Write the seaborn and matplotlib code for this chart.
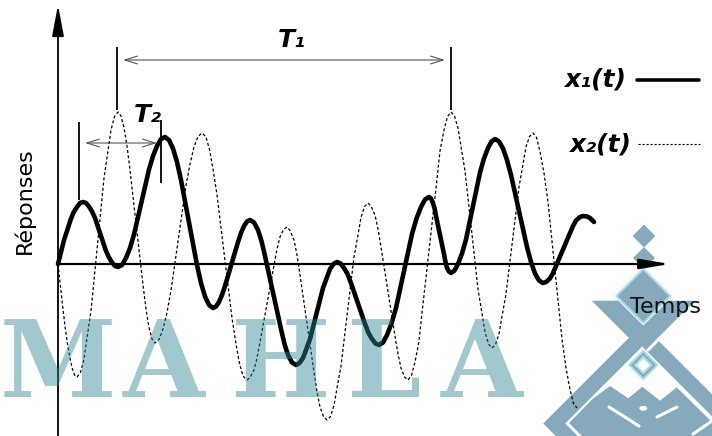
import matplotlib
matplotlib.use("Agg")
import matplotlib.pyplot as plt
from matplotlib.patches import Polygon, Circle
import seaborn as sns

# x1(t): bold response (time, amplitude)
t1 = [0, 3, 6, 9.5, 12.5, 15.5, 19, 22, 25,
      28, 31, 34, 37, 42.5, 48, 51, 54, 57, 60,
      64, 68, 72, 76, 83.5, 91, 95, 99, 103, 107,
      111, 115, 119, 123, 131, 139, 143, 147, 151, 155,
      158, 161, 164, 167, 173.5, 180, 183, 186, 189, 192,
      196, 200, 203.5, 207, 215, 223, 226.5, 230, 234, 238,
      241.5, 245, 248, 252, 258.5, 265, 269, 272, 275.5, 279,
      282.5, 286, 289.5, 293, 300, 307, 310.5, 314, 317.5, 321,
      325, 329, 333.5, 338, 346, 354, 358.5, 363, 367, 371,
      373, 374.5, 376.5, 378, 382, 386, 387.5, 389, 391, 393,
      396.5, 400, 404, 408, 415, 422, 426, 430, 433.5, 437,
      441, 445, 449, 453, 461, 469, 473, 477, 481, 485,
      488, 492, 495, 498, 505, 512, 515, 518, 522, 525,
      529, 532, 536]
x1 = [0, 12, 24, 34.5, 44, 51.5, 57, 61, 62,
      61, 57.5, 52.5, 46, 29.5, 13, 6.5, 1.5, -2, -3,
      -1, 6, 16, 29.5, 62, 94.5, 108, 118, 125, 127,
      124, 115.5, 102, 84, 41.5, -1, -19, -32.5, -41, -44,
      -42.5, -38, -31, -22, 0, 22, 31, 38, 42.5, 44,
      41.5, 34, 23, 8, -28.5, -65, -80, -91, -98.5, -101,
      -99, -94, -86, -75, -49.5, -24, -13, -5, 0, 2,
      0.5, -4, -10, -19, -39.5, -60, -69, -75, -79.5, -81,
      -78.5, -71, -59.5, -44, -7, 30, 45.5, 57, 64.5, 67,
      65.5, 62, 56, 48, 29, 10, 2, -4, -7.5, -9,
      -6.5, 0, 10.5, 24.5, 58, 91.5, 105.5, 116, 122.5, 125,
      122.5, 115.5, 104, 89, 53, 17, 2, -9.5, -16.5, -19,
      -18, -14.5, -9, -2, 14.5, 31, 38, 43.5, 47, 48,
      47.5, 46, 42]

# x2(t): dotted response
t2 = [0, 2.4, 4.75, 7.1, 9.5, 11.9, 14.25, 16.6, 19,
      22.5, 26, 29, 33, 39.5, 46, 50, 53, 56.5, 60,
      63, 66, 69, 72, 78.5, 85, 88, 91, 94, 97,
      101, 105, 109, 113, 120.5, 128, 132, 136, 140, 144,
      148, 151.5, 155, 159, 166.5, 174, 178, 181.5, 185, 189,
      192, 196, 199, 202, 209, 216, 219, 222, 225.5, 229,
      232, 236, 239, 242, 249, 256, 259, 262, 265.5, 269,
      272.5, 276, 279, 283, 289.5, 296, 300, 303, 306.5, 310,
      313, 317, 320, 323, 330, 337, 340, 343, 346.5, 350,
      353.5, 357, 361, 364, 371.5, 379, 382, 386, 389.5, 393,
      396.5, 400, 403, 407, 413.5, 420, 424, 427, 430.5, 434,
      437.5, 441, 444, 448, 454.5, 461, 465, 468, 471.5, 475,
      478.5, 482, 486, 490, 497, 504, 508, 512, 515.5, 519]
x2 = [0, -22, -43, -63, -80, -94, -104.5, -111, -113,
      -108.5, -95, -74, -47, 19.5, 86, 113, 134, 147.5, 152,
      148, 136.5, 118, 94, 36.5, -21, -45, -63.5, -75, -79,
      -75.5, -65, -48.5, -26.5, 26, 78.5, 100, 117, 127.5, 131,
      127, 114.5, 95, 69, 7.5, -54, -80, -99.5, -112, -116,
      -113.5, -106, -94, -78, -39.5, -1, 15, 27, 34.5, 37,
      33.5, 24, 9, -11, -59.5, -108, -128, -143, -152.5, -156,
      -152.5, -141.5, -124, -102, -47.5, 7, 29, 46.5, 57.5, 61,
      58, 49, 35, 17, -27.5, -72, -90, -104, -113, -116,
      -111.5, -98, -77, -49, 18, 85, 113, 134, 147.5, 152,
      148, 136, 117.5, 93, 34, -25, -49.5, -68, -80, -84,
      -80.5, -70, -52.5, -30, 23.5, 77, 99.5, 117, 127.5, 131,
      126.5, 112.5, 91, 62, -6.5, -75, -104, -125.5, -139.5, -144]

sns.set_style("white")
plt.rcParams["font.family"] = ["DejaVu Sans"]
plt.rcParams["text.color"] = "black"

W, H = 712, 436
X0, Y0 = 58, 264  # pixel position of the origin

LOGO = "#86a9bc"
CYAN = "#a9dfe8"


def frac(px, py):
    return px / W, 1 - py / H


def diamond(cx, cy, r, **kw):
    pts = [frac(cx, cy - r), frac(cx + r, cy), frac(cx, cy + r), frac(cx - r, cy)]
    return Polygon(pts, closed=True, transform=ax.transAxes, **kw)


fig = plt.figure(figsize=(W / 100, H / 100), dpi=100)
ax = fig.add_axes([0, 0, 1, 1])
ax.set_xlim(-X0, W - X0)
ax.set_ylim(Y0 - H, Y0)
ax.axis("off")

# background logo (bottom right)
ax.add_patch(diamond(642.2, 423.5, 99, facecolor=LOGO, edgecolor="none", zorder=0.5))
ax.add_patch(diamond(642.2, 423.5, 77, facecolor="white", edgecolor="none", zorder=0.6))
ax.add_patch(Polygon([frac(*p) for p in [(591.7, 300.7), (618.3, 300.7), (643.3, 325.7),
                                          (668.3, 300.7), (695, 300.7), (656.7, 339),
                                          (642.2, 360), (628.8, 337.8)]],
                     transform=ax.transAxes, facecolor=LOGO, edgecolor="none", zorder=0.5))
ax.add_patch(Polygon([frac(*p) for p in [(593.3, 398.3), (610, 386), (628.3, 398.3),
                                          (642.3, 386.7), (660, 400.7), (676.7, 387.3),
                                          (716, 426), (716, 444), (590, 444), (569, 423)]],
                     transform=ax.transAxes, facecolor=LOGO, edgecolor="none", zorder=0.7))
ax.add_patch(Circle(frac(643.3, 408.3), 4 / W, transform=ax.transAxes,
                    facecolor="white", edgecolor="none", zorder=0.8))
for (xa, ya), (xb, yb) in [((609, 407), (639, 426)), ((657, 417), (677, 407)),
                           ((693, 434), (712, 421)), ((648, 350), (660, 338))]:
    ax.plot(*zip(frac(xa, ya), frac(xb, yb)), transform=ax.transAxes,
            color="white", lw=2.2, solid_capstyle="round", zorder=0.9)
ax.add_patch(diamond(643.3, 365, 14, facecolor=LOGO, edgecolor=CYAN, lw=1.5, zorder=0.8))
ax.add_patch(diamond(643.3, 365, 8, facecolor="white", edgecolor=CYAN, lw=1.5, zorder=0.9))
ax.add_patch(diamond(644, 236, 11.5, facecolor=LOGO, edgecolor="none", zorder=0.5))
ax.add_patch(diamond(644, 258, 11, facecolor=LOGO, edgecolor="none", zorder=0.5))
ax.add_patch(diamond(643.3, 296, 27, facecolor=LOGO, edgecolor=CYAN, lw=1.5, zorder=0.8))

# responses
sns.lineplot(x=t2, y=x2, ax=ax, color="black", lw=0.9, linestyle=(0, (2.4, 1.8)),
             estimator=None, sort=False, zorder=3)
sns.lineplot(x=t1, y=x1, ax=ax, color="black", lw=3.3, estimator=None, sort=False,
             solid_joinstyle="round", solid_capstyle="round", zorder=4)

# axes with arrows
ax.annotate("", xy=(0, 259), xytext=(0, Y0 - H - 5),
            arrowprops=dict(arrowstyle="-|>,head_length=1.9,head_width=0.36",
                            color="black", lw=1.3, shrinkA=0, shrinkB=0, mutation_scale=10),
            zorder=5)
ax.annotate("", xy=(612, 0), xytext=(0, 0),
            arrowprops=dict(arrowstyle="-|>,head_length=1.8,head_width=0.3",
                            color="black", lw=1.6, shrinkA=0, shrinkB=0, mutation_scale=10),
            zorder=5)
ax.text(-34, 63, "Réponses", rotation=90, ha="center", va="center", fontsize=16)
ax.text(607, -49, "Temps", ha="center", va="baseline", fontsize=16, color="#111111",
        zorder=5)

# periods T1 and T2
ax.vlines([59, 393], 154, 217, color="black", lw=1.3)
ax.vlines(21, 64, 142, color="black", lw=1.3)
ax.vlines(103, 81, 144, color="black", lw=1.3)
for xa, xb, y in [(65, 387, 204), (27, 99, 121)]:
    ax.annotate("", xy=(xb, y), xytext=(xa, y),
                arrowprops=dict(arrowstyle="<->,head_length=0.9,head_width=0.28",
                                color="#555555", lw=0.8, shrinkA=0, shrinkB=0,
                                mutation_scale=10))
ax.text(233.5, 224, "T₁", ha="center", va="center", fontsize=18,
        fontweight="bold", fontstyle="italic")
ax.text(89.5, 149, "T₂", ha="center", va="center", fontsize=18,
        fontweight="bold", fontstyle="italic")

# legend
ax.text(537, 184, "x₁(t)", ha="center", va="center", fontsize=18,
        fontweight="bold", fontstyle="italic")
ax.plot([579, 641], [184, 184], color="black", lw=2.6)
ax.text(542, 119.5, "x₂(t)", ha="center", va="center", fontsize=18,
        fontweight="bold", fontstyle="italic")
ax.plot([580, 642], [120, 120], color="black", lw=0.8, linestyle=(0, (2, 1.6)))

# watermark
for letter, cx in zip("MAHLA", [58, 164, 281, 384, 482]):
    ax.text(*frac(cx, 397), letter, transform=ax.transAxes, ha="center", va="baseline",
            fontsize=76, family="DejaVu Serif", fontweight="bold",
            color="#2c8594", alpha=0.45, zorder=6)

fig.savefig("out.png", dpi=100)
